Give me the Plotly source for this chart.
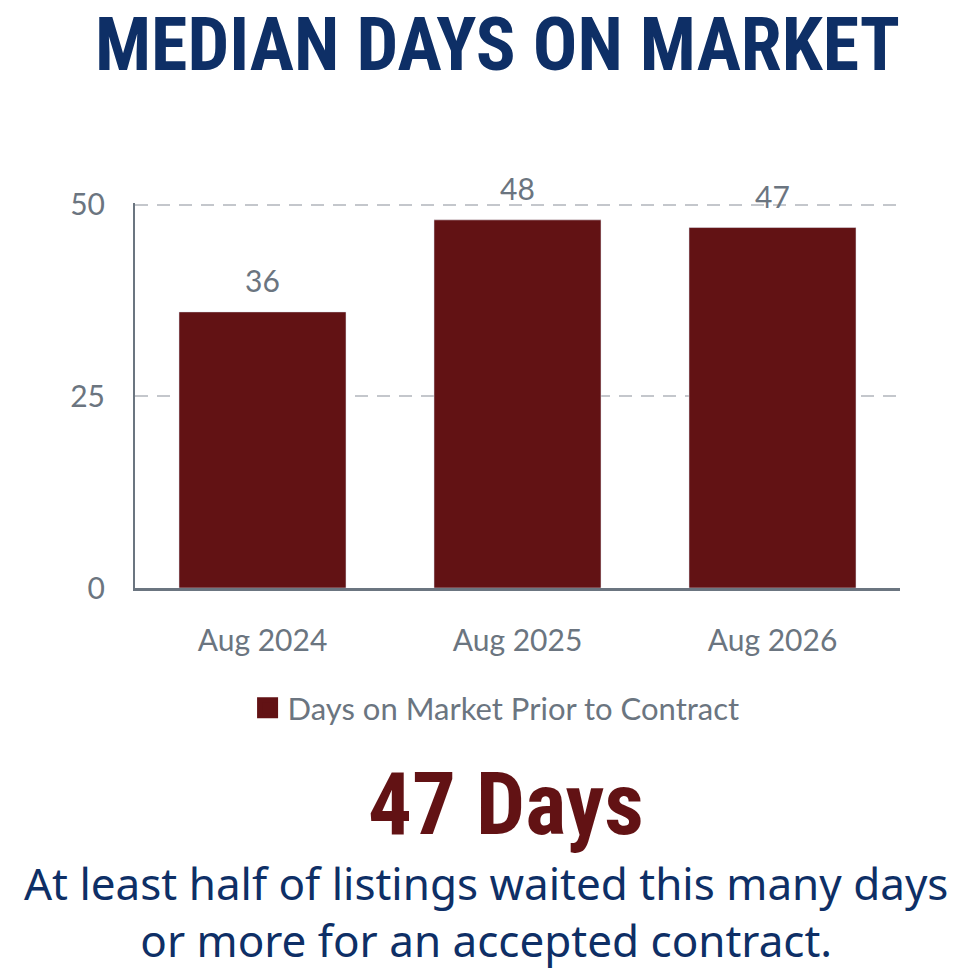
import plotly.graph_objects as go

months = ['Aug 2024', 'Aug 2025', 'Aug 2026']
days_on_market = [36, 48, 47]
series_name = 'Days on Market Prior to Contract'
y_ticks = [0, 25, 50]

title_text = 'MEDIAN DAYS ON MARKET'
headline = '47 Days'
note_lines = ['At least half of listings waited this many days',
              'or more for an accepted contract.']

navy = '#0e2f66'
maroon = '#621214'
gray = '#6b7580'
condensed = 'Roboto Condensed, DejaVu Sans Condensed, Roboto, sans-serif'

# page body has an 8px margin, so the figure is 963 square
W = H = 963
L, R, T, B = 127, 71, 195, 383
plot_h = H - T - B


def py(pix):
    # pixel row (page coords minus body margin) -> paper y
    return (H - B - pix) / plot_h


fig = go.Figure()
fig.add_trace(go.Bar(x=months, y=days_on_market, name=series_name,
                     marker=dict(color=maroon), showlegend=False))
# legend entry with a larger swatch
fig.add_trace(go.Scatter(x=[None], y=[None], mode='markers', name=series_name,
                         marker=dict(symbol='square', size=30, color=maroon,
                                     line=dict(width=6, color=maroon))))

for m, v in zip(months, days_on_market):
    fig.add_annotation(x=m, y=v, text=str(v), showarrow=False, yanchor='bottom', yshift=12,
                       font=dict(family='Lato', size=30, color=gray))

fig.update_layout(
    width=W, height=H,
    margin=dict(l=L, r=R, t=T, b=B),
    plot_bgcolor='white', paper_bgcolor='white',
    bargap=0.345,
    showlegend=True,
    legend=dict(orientation='h', x=0.472, xanchor='center', y=py(700), yanchor='middle',
                font=dict(family='Lato', size=31, color=gray)),
    font=dict(family='Lato', color=gray),
)
fig.update_yaxes(range=[0, 50.2], tickvals=y_ticks, showline=True, linecolor=gray, linewidth=2,
                 showgrid=True, gridcolor='#c4c7cc', griddash='13px,9px', gridwidth=2,
                 zeroline=False, ticks='', ticklabelstandoff=22,
                 tickfont=dict(family='Lato', size=30, color=gray))
fig.update_xaxes(showline=True, linecolor=gray, linewidth=3, ticks='', ticklabelstandoff=24,
                 tickfont=dict(family='Lato', size=30, color=gray))

fig.add_annotation(text='<b>' + title_text + '</b>', xref='paper', yref='paper',
                   x=0.474, y=py(36), xanchor='center', yanchor='middle', showarrow=False,
                   font=dict(family=condensed, size=74, color=navy))
fig.add_annotation(text='<b>' + headline + '</b>', xref='paper', yref='paper',
                   x=0.485, y=py(796), xanchor='center', yanchor='middle', showarrow=False,
                   font=dict(family=condensed, size=87, color=maroon))
fig.add_annotation(text='<br>'.join(note_lines), xref='paper', yref='paper',
                   x=0.459, y=py(903), xanchor='center', yanchor='middle', showarrow=False,
                   font=dict(family='Noto Sans', size=44, color=navy))

fig.write_html('out.html')
